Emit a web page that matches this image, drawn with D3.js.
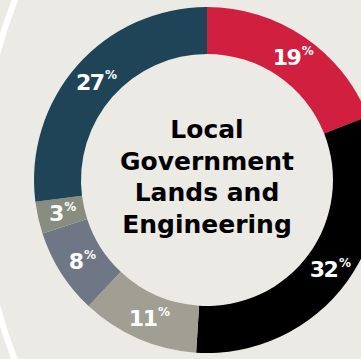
<!DOCTYPE html>
<html>
<head>
<meta charset="utf-8">
<script src="https://cdn.jsdelivr.net/npm/d3@7"></script>
<style>
  html, body { margin: 0; padding: 0; background: #ebeae5; }
  svg { display: block; }
</style>
</head>
<body>
<svg id="chart" width="361" height="359"></svg>
<script>
// Share of budget by segment, clockwise from twelve o'clock
const categories = ["A", "B", "C", "D", "E", "F"];
const values = [19, 32, 11, 8, 3, 27];
const colors = ["#d11f3f", "#000000", "#a19f93", "#6f7786", "#898c80", "#1f4457"];
const titleLines = ["Local", "Government", "Lands and", "Engineering"];

const W = 361, H = 359;
const cx = 207, cy = 180;
const outerR = 173, innerR = 126;
const FONT = "'DejaVu Sans', Lato, sans-serif";

const svg = d3.select("#chart");

svg.append("rect").attr("width", W).attr("height", H).attr("fill", "#ebeae5");

// decorative white arc along the left edge
svg.append("circle")
  .attr("cx", 476).attr("cy", 180).attr("r", 495)
  .attr("fill", "none").attr("stroke", "#ffffff").attr("stroke-width", 6);

const data = categories.map((c, i) => ({ cat: c, value: values[i], color: colors[i] }));

const pie = d3.pie().value(d => d.value).sort(null);
const arc = d3.arc().innerRadius(innerR).outerRadius(outerR);
const labelArc = d3.arc().innerRadius(150).outerRadius(150);

const g = svg.append("g").attr("transform", `translate(${cx},${cy})`);
const arcs = pie(data);

g.selectAll("path.slice")
  .data(arcs)
  .join("path")
  .attr("class", "slice")
  .attr("d", arc)
  .attr("fill", d => d.data.color);

const labels = g.selectAll("text.pct")
  .data(arcs)
  .join("text")
  .attr("class", "pct")
  .attr("transform", d => { const [x, y] = labelArc.centroid(d); return `translate(${x + 2},${y + 3})`; })
  .attr("text-anchor", "middle")
  .attr("dy", "0.36em")
  .attr("fill", "#ffffff")
  .attr("font-family", FONT)
  .attr("font-weight", "bold");

labels.append("tspan")
  .attr("font-size", 22)
  .attr("letter-spacing", -1.5)
  .text(d => d.data.value);
labels.append("tspan")
  .attr("font-size", 12)
  .attr("dy", "-0.85em")
  .attr("dx", 1.5)
  .text("%");

// centre title
const title = g.append("text")
  .attr("text-anchor", "middle")
  .attr("font-family", FONT)
  .attr("font-weight", "bold")
  .attr("font-size", 25)
  .attr("fill", "#000000");

titleLines.forEach((t, i) => {
  title.append("tspan")
    .attr("x", 0)
    .attr("y", -42 + i * 31.7)
    .text(t);
});
</script>
</body>
</html>
